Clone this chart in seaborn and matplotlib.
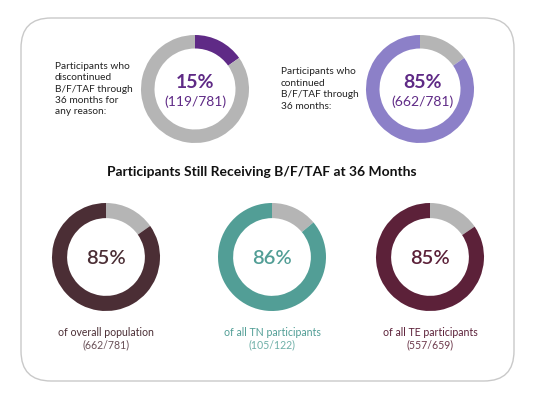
import matplotlib
matplotlib.use("Agg")
import matplotlib.pyplot as plt
import seaborn as sns
from matplotlib.patches import FancyBboxPatch

sns.set_theme(style="white")
plt.rcParams['font.family'] = ['Lato', 'DejaVu Sans']

# Data
total = 781
discontinued = 119
continued = 662
group_labels = ["of overall population", "of all TN participants", "of all TE participants"]
group_still = [662, 105, 557]
group_total = [781, 122, 659]
group_pct = [85, 86, 85]

# Colors
GRAY = "#B5B5B5"
PURPLE = "#5F2A86"
LAVENDER = "#8C80C8"
group_colors = ["#4B2E35", "#529E96", "#5C2139"]
group_sub_colors = ["#6A5158", "#6FB0A8", "#6E3A4C"]

W, H = 535, 396
fig = plt.figure(figsize=(W / 100, H / 100), dpi=100)
bg = fig.add_axes([0, 0, 1, 1])
bg.set_xlim(0, W)
bg.set_ylim(H, 0)
bg.axis("off")

# rounded frame
frame = FancyBboxPatch((21, 18), 493, 363, boxstyle="round,pad=0,rounding_size=30",
                       fc="white", ec="#C9C9C9", lw=1.0)
bg.add_patch(frame)


def donut(cx, cy, values, colors, r=54, width=0.25):
    ax = fig.add_axes([(cx - r) / W, 1 - (cy + r) / H, 2 * r / W, 2 * r / H])
    ax.pie(values, colors=colors, startangle=90, counterclock=False,
           wedgeprops=dict(width=width, linewidth=0))
    ax.set_xlim(-1, 1)
    ax.set_ylim(-1, 1)
    ax.axis("off")
    return ax


# Top-left: discontinued
donut(195, 89, [discontinued, total - discontinued], [PURPLE, GRAY])
bg.text(55, 89, "Participants who\ndiscontinued\nB/F/TAF through\n36 months for\nany reason:",
        ha="left", va="center", fontsize=7.3, color="#222222", linespacing=1.35)
bg.text(195, 83, f"{round(discontinued / total * 100)}%", ha="center", va="center",
        fontsize=14, fontweight="bold", color=PURPLE)
bg.text(195, 102, f"({discontinued}/{total})", ha="center", va="center",
        fontsize=10, color=PURPLE)

# Top-right: continued
donut(420, 89, [total - continued, continued], [GRAY, LAVENDER])
bg.text(281, 89, "Participants who\ncontinued\nB/F/TAF through\n36 months:",
        ha="left", va="center", fontsize=7.3, color="#222222", linespacing=1.35)
bg.text(422, 82, f"{round(continued / total * 100)}%", ha="center", va="center",
        fontsize=14, fontweight="bold", color=PURPLE)
bg.text(422, 102, f"({continued}/{total})", ha="center", va="center",
        fontsize=10, color=PURPLE)

# Title
bg.text(262, 172, "Participants Still Receiving B/F/TAF at 36 Months", ha="center",
        va="center", fontsize=10, fontweight="bold", color="#111111")

# Bottom row
centers = [106, 272, 430]
for cx, lab, s, t, p, c, sc in zip(centers, group_labels, group_still, group_total,
                                   group_pct, group_colors, group_sub_colors):
    donut(cx, 257, [t - s, s], [GRAY, c], width=0.28)
    bg.text(cx, 258, f"{p}%", ha="center", va="center", fontsize=14.5,
            fontweight="semibold", color=c)
    bg.text(cx, 332, lab, ha="center", va="center", fontsize=7.6, color=c)
    bg.text(cx, 345, f"({s}/{t})", ha="center", va="center", fontsize=7.6, color=sc)

fig.savefig("out.png", dpi=100, facecolor="white")
